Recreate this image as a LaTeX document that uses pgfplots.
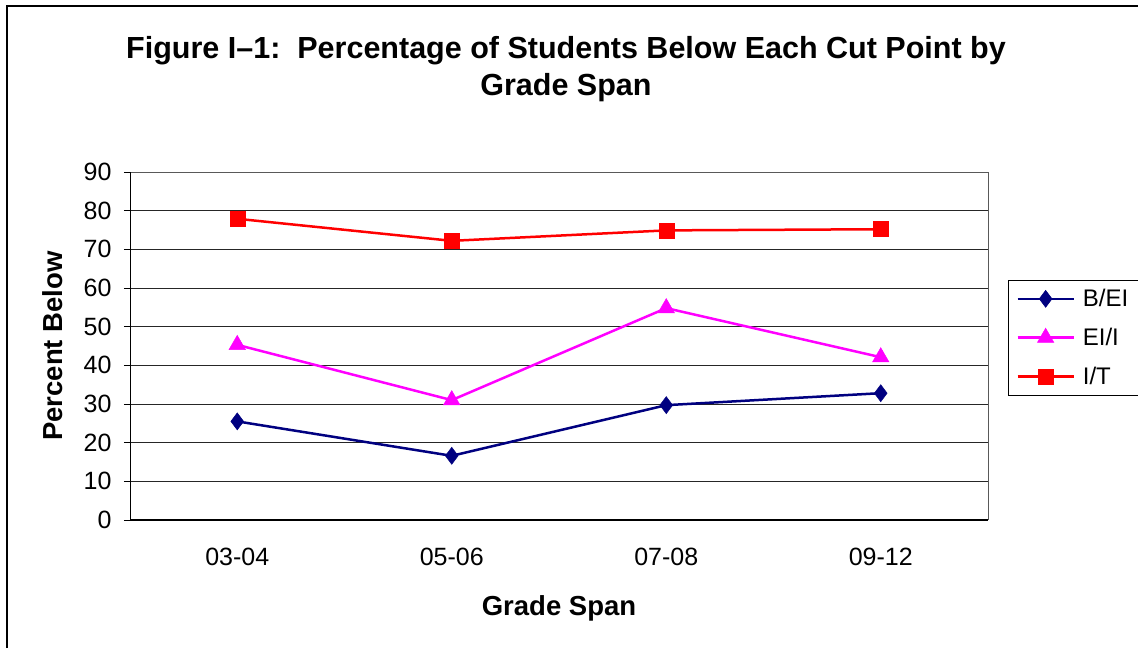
\documentclass[border=0pt]{standalone}
\usepackage{fontspec}
\setmainfont{Liberation Sans}
\usepackage{pgfplots}
\pgfplotsset{compat=1.18}
\definecolor{navyc}{RGB}{0,0,128}
\definecolor{magc}{RGB}{255,0,255}
\definecolor{redc}{RGB}{255,0,0}
\begin{document}
\begin{tikzpicture}[x=1pt,y=1pt]
\path[use as bounding box, fill=white] (0,0) rectangle (1138,648);
\draw[line width=1.6pt] (7,0) -- (7,642) -- (1138,642);
\node[align=center, font=\fontsize{30.5}{37}\selectfont\bfseries] at (566,579) {Figure I--1:\ \ Percentage of Students Below Each Cut Point by\\Grade Span};
\begin{axis}[
  at={(130pt,128pt)}, anchor=south west,
  scale only axis, width=858pt, height=348pt,
  xmin=0.5, xmax=4.5, ymin=0, ymax=90,
  xtick={1,2,3,4}, xticklabels={03-04,05-06,07-08,09-12},
  minor xtick={0.5,1.5,2.5,3.5,4.5},
  ytick={0,10,...,90},
  tick align=outside,
  major tick length=6pt, minor tick length=6pt,
  xtick style={draw=none},
  minor x tick style={black, line width=0.8pt},
  ytick style={black, line width=0.8pt},
  tick pos=left,
  ymajorgrids, grid style={black!85, line width=0.7pt},
  axis line style={draw=none},
  /pgf/number format/assume math mode=true,
  tick label style={font=\fontsize{25}{30}\selectfont},
  xticklabel style={yshift=-19pt},
  yticklabel style={xshift=-9pt},
  xlabel={Grade Span}, ylabel={Percent Below},
  label style={font=\fontsize{27.5}{32}\selectfont\bfseries},
  xlabel style={yshift=-22pt},
  ylabel style={yshift=14pt},
  legend style={at={(1.0233,0.6897)}, anchor=north west, draw=black, line width=0.8pt,
    font=\fontsize{24}{28}\selectfont, row sep=16pt, inner xsep=8pt, inner ysep=7pt, cells={anchor=west},
    /tikz/every odd column/.append style={column sep=6pt}},
  legend image code/.code={
    \draw[mark repeat=2,mark phase=2,#1] plot coordinates {(0pt,0pt) (28pt,0pt) (56pt,0pt)};},
  clip=false,
]
\draw[gray!70!black, line width=0.8pt] (axis cs:0.5,90) -- (axis cs:4.5,90) -- (axis cs:4.5,0);
\draw[black, line width=1pt] (axis cs:0.5,0) -- (axis cs:0.5,90);
\draw[black, line width=1pt] (axis cs:0.5,0) -- (axis cs:4.5,0);
\addplot[navyc, line width=2.5pt, mark=diamond*, mark size=8.5pt, mark options={solid, fill=navyc, line width=0.5pt}] coordinates {(1,25.5) (2,16.6) (3,29.7) (4,32.8)};
\addlegendentry{B/EI}
\addplot[magc, line width=2.5pt, mark=triangle*, mark size=9.5pt, mark options={solid, fill=magc, line width=0.5pt}] coordinates {(1,45.3) (2,31.0) (3,54.8) (4,42.1)};
\addlegendentry{EI/I}
\addplot[redc, line width=2.5pt, mark=square*, mark size=7.5pt, mark options={solid, fill=redc, line width=0.5pt}] coordinates {(1,77.9) (2,72.2) (3,74.9) (4,75.2)};
\addlegendentry{I/T}
\end{axis}
\end{tikzpicture}
\end{document}
